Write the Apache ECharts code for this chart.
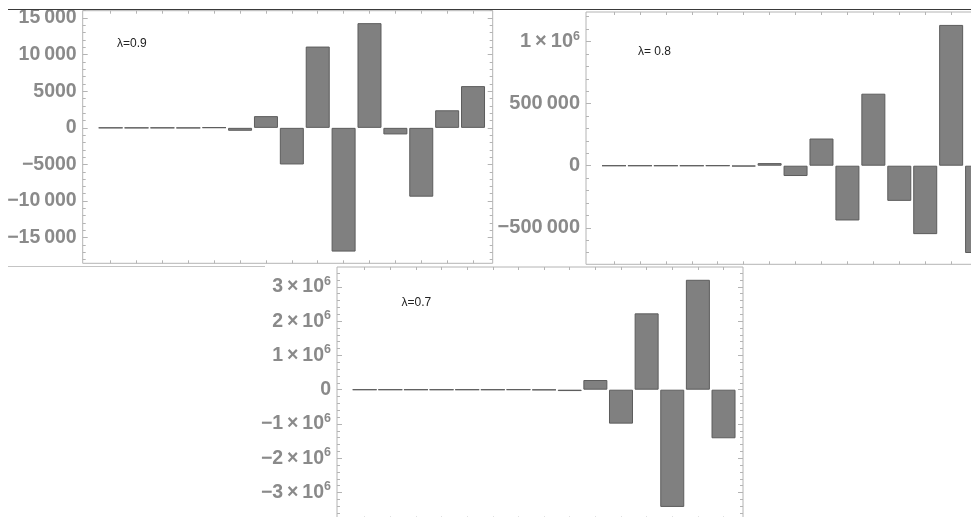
<!DOCTYPE html>
<html>
<head>
<meta charset="utf-8">
<script src="https://cdn.jsdelivr.net/npm/echarts@6/dist/echarts.min.js"></script>
<style>html,body{margin:0;padding:0;background:#fff;overflow:hidden;width:971px;height:517px}#c{width:1010px;height:530px}</style>
</head>
<body>
<div id="c"></div>
<script>
// ---- data ----
const barIndex = [1,2,3,4,5,6,7,8,9,10,11,12,13,14,15];
const lambda09 = [2, -3, 5, -15, 60, -400, 1600, -5000, 11100, -16900, 14300, -900, -9400, 2400, 5700];
const lambda08 = [20, -40, 100, -300, 800, -5000, 21000, -83000, 219000, -441000, 580000, -283000, -551000, 1134000, -703000];
const lambda07 = [10, -30, 60, -150, 400, -1000, 3000, -8000, -40000, 283000, -990000, 2227000, -3420000, 3207000, -1417000];

const ticks09 = [-15000, -10000, -5000, 0, 5000, 10000, 15000];
const labels09 = ['\u221215\u2009000', '\u221210\u2009000', '\u22125000', '0', '5000', '10\u2009000', '15\u2009000'];
const ticks08 = [-500000, 0, 500000, 1000000];
const labels08 = ['\u2212500\u2009000', '0', '500\u2009000', '{m|1\u2009\u00d7\u200910}{s|6}'];
const ticks07 = [-3000000, -2000000, -1000000, 0, 1000000, 2000000, 3000000];
const labels07 = ['{m|\u22123\u2009\u00d7\u200910}{s|6}', '{m|\u22122\u2009\u00d7\u200910}{s|6}', '{m|\u22121\u2009\u00d7\u200910}{s|6}', '0',
                  '{m|1\u2009\u00d7\u200910}{s|6}', '{m|2\u2009\u00d7\u200910}{s|6}', '{m|3\u2009\u00d7\u200910}{s|6}'];
const lambdaTexts = ['\u03bb=0.9', '\u03bb= 0.8', '\u03bb=0.7'];

// ---- layout ----
const FONT = 'Liberation Sans, Arial, sans-serif';
const LBL = '#8a8a8a';
const FRAME = '#b4b4b4';
const panels = [
  {data: lambda09, ticks: ticks09, labels: labels09, minorStep: 1000, ymin: -18500, ymax: 16000,
   left: 82.7, top: 10.7, width: 410, height: 252.6, fs: 19.5},
  {data: lambda08, ticks: ticks08, labels: labels08, minorStep: 100000, ymin: -794000, ymax: 1238000,
   left: 586, top: 12, width: 410.8, height: 252.3, fs: 20},
  {data: lambda07, ticks: ticks07, labels: labels07, minorStep: 200000, ymin: -3790000, ymax: 3580000,
   left: 337, top: 267, width: 406, height: 252.6, fs: 19.5}
];
const XMIN = -0.08, XMAX = 15.76;

function minors(p){
  const out = [];
  const start = Math.ceil(p.ymin / p.minorStep) * p.minorStep;
  for (let v = start; v <= p.ymax; v += p.minorStep) {
    if (p.ticks.indexOf(v) < 0) out.push(v);
  }
  return out;
}

const grid = [], xAxis = [], yAxis = [], series = [];
panels.forEach((p, g) => {
  grid.push({left: p.left, top: p.top, width: p.width, height: p.height, show: true,
             borderColor: FRAME, borderWidth: 1, backgroundColor: 'transparent', containLabel: false});
  ['bottom', 'top'].forEach(pos => {
    xAxis.push({type: 'value', gridIndex: g, position: pos, min: XMIN, max: XMAX,
      axisLine: {show: false, onZero: false}, splitLine: {show: false},
      axisLabel: {show: false},
      axisTick: {show: true, inside: true, length: 3, customValues: barIndex, lineStyle: {color: FRAME}}});
  });
  const mk = (pos, major) => ({
    type: 'value', gridIndex: g, position: pos, min: p.ymin, max: p.ymax,
    axisLine: {show: false, onZero: false}, splitLine: {show: false},
    axisTick: {show: true, inside: true, length: major ? 5 : 3,
               customValues: major ? p.ticks : minors(p), lineStyle: {color: FRAME}},
    axisLabel: (major && pos === 'left') ? {
      show: true, customValues: p.ticks, margin: 6, color: LBL, fontSize: p.fs, fontWeight: 'bold', fontFamily: FONT,
      formatter: v => { const i = p.ticks.indexOf(v); return i >= 0 ? p.labels[i] : ''; },
      rich: {
        m: {fontSize: p.fs, fontWeight: 'bold', color: LBL, fontFamily: FONT, lineHeight: 24},
        s: {fontSize: 12.5, fontWeight: 'bold', color: LBL, fontFamily: FONT, lineHeight: 10, verticalAlign: 'top'}
      }
    } : {show: false}
  });
  yAxis.push(mk('left', true), mk('left', false), mk('right', true), mk('right', false));
  series.push({
    type: 'bar', xAxisIndex: 2 * g, yAxisIndex: 4 * g, barWidth: 24, animation: false,
    data: barIndex.map((x, i) => [x, p.data[i]]),
    itemStyle: {color: '#808080', borderColor: '#5c5c5c', borderWidth: 1}
  });
});

const graphic = [
  {type: 'line', shape: {x1: 8, y1: 9.5, x2: 1010, y2: 9.5}, style: {stroke: '#3a3a3a', lineWidth: 1}, z: 100},
  {type: 'line', shape: {x1: 8, y1: 266.5, x2: 265, y2: 266.5}, style: {stroke: '#c4c4c4', lineWidth: 1}, z: 100},
  {type: 'text', x: 117, y: 43.5, style: {text: lambdaTexts[0], font: '12px ' + FONT, fill: '#222', verticalAlign: 'middle'}, z: 100},
  {type: 'text', x: 638, y: 51.5, style: {text: lambdaTexts[1], font: '12px ' + FONT, fill: '#222', verticalAlign: 'middle'}, z: 100},
  {type: 'text', x: 401.5, y: 302.5, style: {text: lambdaTexts[2], font: '12px ' + FONT, fill: '#222', verticalAlign: 'middle'}, z: 100}
];

const chart = echarts.init(document.getElementById('c'), null, {renderer: 'canvas'});
chart.setOption({animation: false, backgroundColor: '#fff', grid, xAxis, yAxis, series, graphic});
</script>
</body>
</html>
